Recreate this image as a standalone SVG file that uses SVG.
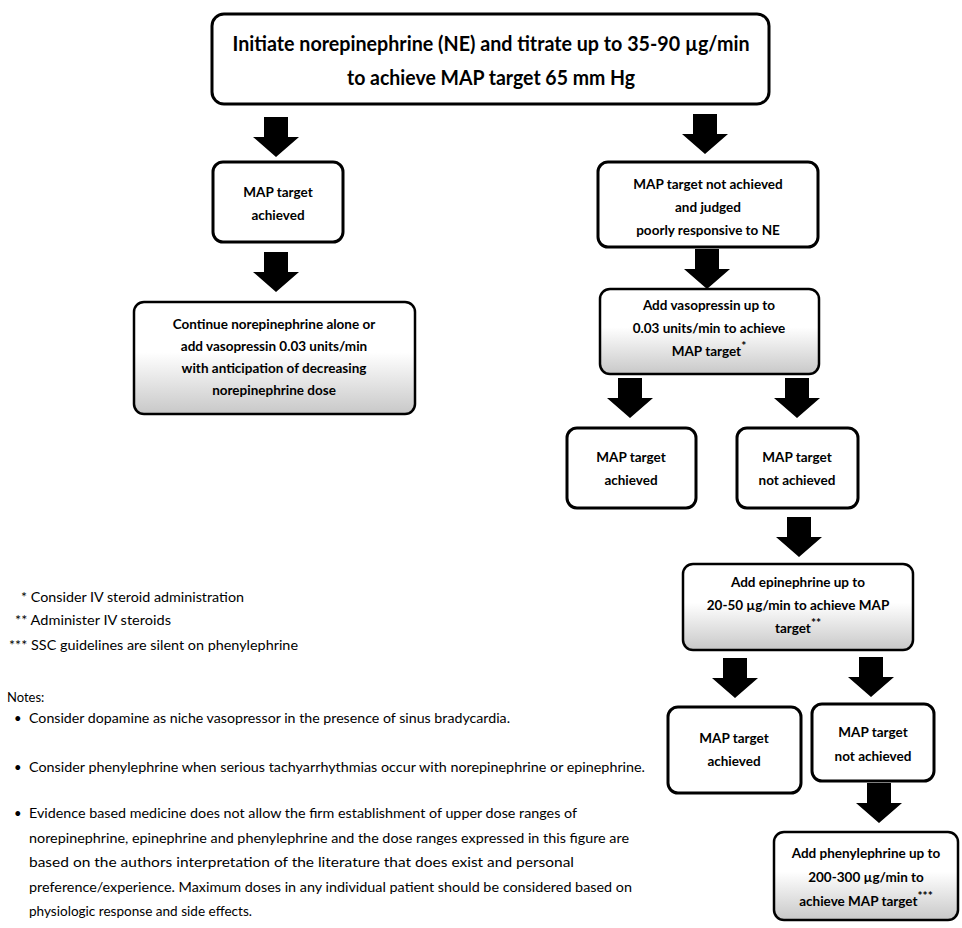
<svg xmlns="http://www.w3.org/2000/svg" xmlns:xlink="http://www.w3.org/1999/xlink" width="962" height="928" viewBox="0 0 962 928">
<style>
.box{fill:#fff;stroke:#000;stroke-width:3}
.sbox{fill:url(#shade);stroke:#000;stroke-width:2.5}
.t{font-family:Lato,"Liberation Sans",sans-serif;font-weight:bold;font-size:13.5px;fill:#000;text-anchor:middle}
.big{font-size:20px}
.n{font-family:Lato,"Liberation Sans",sans-serif;font-size:13px;fill:#000}
.sup{font-size:12px}
.arr{fill:#000}
</style>
<defs>
<linearGradient id="shade" x1="0" y1="0" x2="0" y2="1">
<stop offset="0" stop-color="#fff"/>
<stop offset="0.45" stop-color="#fff"/>
<stop offset="1" stop-color="#c8c8c8"/>
</linearGradient>
<path id="arrow" d="M-12,-40 H12 V-20 H23 L0,0 L-23,-20 H-12 Z"/>
</defs>
<rect width="962" height="928" fill="#fff"/>

<g id="connectors" class="arr">
<use xlink:href="#arrow" x="276" y="157"/>
<use xlink:href="#arrow" x="276" y="292"/>
<use xlink:href="#arrow" x="705" y="154"/>
<use xlink:href="#arrow" x="707" y="289"/>
<use xlink:href="#arrow" x="630" y="418"/>
<use xlink:href="#arrow" x="797" y="418"/>
<use xlink:href="#arrow" x="799" y="557"/>
<use xlink:href="#arrow" x="735" y="698"/>
<use xlink:href="#arrow" x="871" y="697"/>
<use xlink:href="#arrow" x="879" y="823"/>
</g>

<g id="n-start">
<rect class="box" x="212" y="14" width="557" height="90" rx="12"/>
<text class="t big" x="491" y="51" textLength="517" lengthAdjust="spacingAndGlyphs">Initiate norepinephrine (NE) and titrate up to 35-90 µg/min</text>
<text class="t big" x="491" y="85" textLength="288" lengthAdjust="spacingAndGlyphs">to achieve MAP target 65 mm Hg</text>
</g>

<g id="n-achieved1">
<rect class="box" x="213" y="162" width="130" height="80" rx="10"/>
<text class="t" x="278" y="197">MAP target</text>
<text class="t" x="278" y="220">achieved</text>
</g>

<g id="n-continue">
<rect class="sbox" x="134" y="302" width="281" height="112" rx="10"/>
<text class="t" x="274" y="329">Continue norepinephrine alone or</text>
<text class="t" x="274" y="351">add vasopressin 0.03 units/min</text>
<text class="t" x="274" y="373">with  anticipation of decreasing</text>
<text class="t" x="274" y="395">norepinephrine dose</text>
</g>

<g id="n-notachieved1">
<rect class="box" x="598" y="162" width="220" height="85" rx="10"/>
<text class="t" x="708" y="189">MAP target not achieved</text>
<text class="t" x="708" y="212">and judged</text>
<text class="t" x="708" y="235">poorly responsive to NE</text>
</g>

<g id="n-vasopressin">
<rect class="sbox" x="600" y="289" width="219" height="85" rx="10"/>
<text class="t" x="709" y="310">Add vasopressin up to</text>
<text class="t" x="709" y="333">0.03 units/min to achieve</text>
<text class="t" x="709" y="356">MAP target<tspan class="sup" dy="-6">*</tspan></text>
</g>

<g id="n-achieved2">
<rect class="box" x="567" y="428" width="129" height="80" rx="10"/>
<text class="t" x="631" y="462">MAP target</text>
<text class="t" x="631" y="485">achieved</text>
</g>

<g id="n-notachieved2">
<rect class="box" x="737" y="428" width="121" height="80" rx="10"/>
<text class="t" x="797" y="462">MAP target</text>
<text class="t" x="797" y="485">not achieved</text>
</g>

<g id="n-epinephrine">
<rect class="sbox" x="683" y="564" width="230" height="86" rx="10"/>
<text class="t" x="798" y="587">Add epinephrine up to</text>
<text class="t" x="798" y="610">20-50 µg/min to achieve MAP</text>
<text class="t" x="798" y="633">target<tspan class="sup" dy="-6">**</tspan></text>
</g>

<g id="n-achieved3">
<rect class="box" x="668" y="707" width="133" height="86" rx="10"/>
<text class="t" x="734" y="743">MAP target</text>
<text class="t" x="734" y="766">achieved</text>
</g>

<g id="n-notachieved3">
<rect class="box" x="812" y="704" width="122" height="77" rx="10"/>
<text class="t" x="873" y="737">MAP target</text>
<text class="t" x="873" y="761">not achieved</text>
</g>

<g id="n-phenylephrine">
<rect class="sbox" x="774" y="832" width="184" height="88" rx="10"/>
<text class="t" x="866" y="858">Add phenylephrine up to</text>
<text class="t" x="866" y="882">200-300 µg/min to</text>
<text class="t" x="866" y="906">achieve MAP target<tspan class="sup" dy="-6">***</tspan></text>
</g>

<g id="footnotes">
<text class="n" x="21" y="602" textLength="223" lengthAdjust="spacingAndGlyphs">* Consider IV steroid administration</text>
<text class="n" x="15" y="625" textLength="156" lengthAdjust="spacingAndGlyphs">** Administer IV steroids</text>
<text class="n" x="9" y="650" textLength="289" lengthAdjust="spacingAndGlyphs">*** SSC guidelines are silent on phenylephrine</text>
</g>

<g id="notes">
<text class="n" x="7" y="702">Notes:</text>
<text class="n" x="14" y="723">•</text>
<text class="n" x="29" y="723" textLength="481" lengthAdjust="spacingAndGlyphs">Consider dopamine as niche vasopressor in the presence of sinus bradycardia.</text>
<text class="n" x="14" y="772">•</text>
<text class="n" x="29" y="772" textLength="616" lengthAdjust="spacingAndGlyphs">Consider phenylephrine when serious tachyarrhythmias occur with norepinephrine or epinephrine.</text>
<text class="n" x="14" y="818">•</text>
<text class="n" x="29" y="818" textLength="548" lengthAdjust="spacingAndGlyphs">Evidence based medicine does not allow the firm establishment of upper dose ranges of</text>
<text class="n" x="29" y="843" textLength="600" lengthAdjust="spacingAndGlyphs">norepinephrine, epinephrine and phenylephrine and the dose ranges expressed in this figure are</text>
<text class="n" x="29" y="867" textLength="545" lengthAdjust="spacingAndGlyphs">based on the authors interpretation of the literature that does exist and personal</text>
<text class="n" x="29" y="892" textLength="603" lengthAdjust="spacingAndGlyphs">preference/experience. Maximum doses in any individual patient should be considered based on</text>
<text class="n" x="29" y="916" textLength="223" lengthAdjust="spacingAndGlyphs">physiologic response and side effects.</text>
</g>
</svg>
